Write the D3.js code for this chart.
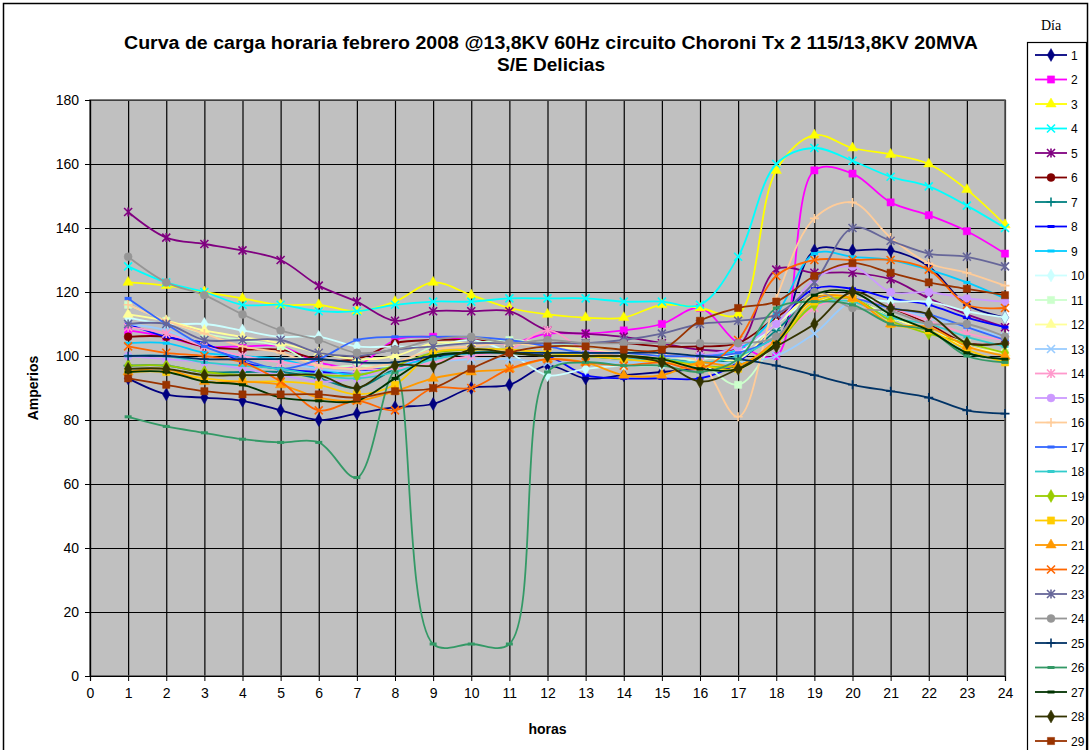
<!DOCTYPE html>
<html>
<head>
<meta charset="utf-8">
<script src="https://cdn.jsdelivr.net/npm/d3@7"></script>
<style>
  body { margin: 0; background: #fff; }
</style>
</head>
<body>
<div id="chart"></div>
<script>
// hours and axes
const hours = d3.range(1, 25);
const xTicks = d3.range(0, 25);
const yTicks = d3.range(0, 181, 20);
const dias = d3.range(1, 30);

// amperes per hour, one array per day
const dia01 = [93, 88, 87, 86, 83, 80, 82, 84, 85, 90, 91, 97, 93, 94, 95, 96, 97, 104, 133, 133, 133, 128, 116, 112];
const dia02 = [108, 106, 103, 103, 103, 98, 97, 105, 106, 105, 104, 107, 107, 108, 110, 115, 104, 100, 158, 157, 148, 144, 139, 132];
const dia03 = [123, 122, 120, 118, 116, 116, 114, 117, 123, 119, 115, 113, 112, 112, 116, 115, 113, 158, 169, 165, 163, 160, 152, 141];
const dia04 = [128, 123, 120, 116, 116, 114, 114, 116, 117, 117, 118, 118, 118, 117, 117, 116, 131, 160, 165, 161, 156, 153, 147, 140];
const dia05 = [145, 137, 135, 133, 130, 122, 117, 111, 114, 114, 114, 108, 107, 106, 104, 102, 103, 127, 126, 126, 124, 118, 113, 109];
const dia06 = [106, 106, 103, 102, 102, 99, 99, 104, 105, 105, 104, 104, 104, 104, 103, 103, 104, 112, 119, 118, 115, 110, 104, 104];
const dia07 = [97, 97, 95, 95, 95, 93, 90, 96, 100, 101, 101, 100, 100, 99, 99, 98, 99, 108, 118, 118, 112, 108, 101, 99];
const dia08 = [110, 106, 104, 98, 96, 95, 95, 97, 100, 101, 101, 100, 94, 93, 93, 93, 98, 110, 121, 121, 118, 116, 112, 109];
const dia09 = [104, 104, 101, 100, 99, 96, 94, 97, 99, 101, 101, 101, 101, 100, 100, 100, 102, 113, 132, 131, 130, 127, 123, 118];
const dia10 = [112, 110, 110, 108, 106, 106, 103, 103, 103, 105, 101, 94, 96, 97, 97, 99, 101, 110, 118, 118, 117, 117, 114, 112];
const dia11 = [116, 111, 107, 105, 103, 97, 97, 97, 103, 104, 105, 104, 103, 102, 100, 98, 91, 105, 117, 117, 113, 108, 104, 101];
const dia12 = [113, 111, 108, 106, 104, 101, 99, 100, 104, 104, 104, 103, 102, 101, 101, 100, 99, 110, 119, 118, 112, 108, 103, 101];
const dia13 = [110, 108, 103, 100, 98, 96, 95, 96, 98, 99, 99, 98, 98, 98, 98, 98, 98, 100, 107, 117, 115, 112, 109, 106];
const dia14 = [109, 107, 103, 100, 98, 97, 96, 96, 98, 100, 102, 108, 102, 101, 101, 100, 101, 105, 115, 118, 115, 111, 107, 105];
const dia15 = [100, 99, 98, 96, 94, 92, 93, 97, 100, 101, 101, 101, 101, 100, 100, 100, 103, 110, 124, 128, 120, 120, 118, 117];
const dia16 = [116, 111, 107, 103, 101, 97, 96, 98, 102, 103, 104, 103, 101, 100, 100, 98, 81, 118, 143, 148, 137, 129, 126, 122];
const dia17 = [118, 110, 103, 99, 96, 99, 105, 106, 106, 106, 105, 103, 101, 101, 100, 100, 101, 106, 118, 118, 115, 113, 109, 105];
const dia18 = [100, 100, 98, 97, 96, 94, 93, 95, 99, 101, 101, 100, 100, 99, 99, 98, 100, 106, 116, 117, 112, 110, 106, 103];
const dia19 = [97, 97, 95, 94, 94, 94, 94, 97, 101, 102, 102, 101, 100, 100, 99, 97, 97, 104, 116, 118, 111, 107, 104, 101];
const dia20 = [95, 95, 93, 92, 92, 91, 88, 91, 101, 102, 102, 101, 100, 99, 98, 97, 96, 104, 117, 118, 110, 108, 102, 98];
const dia21 = [95, 96, 92, 92, 91, 87, 86, 89, 93, 95, 96, 99, 98, 94, 94, 98, 97, 105, 118, 118, 110, 109, 103, 100];
const dia22 = [103, 101, 100, 98, 92, 83, 86, 83, 90, 90, 96, 99, 98, 97, 98, 96, 105, 125, 130, 130, 130, 127, 116, 115];
const dia23 = [110, 110, 105, 105, 105, 101, 100, 102, 103, 104, 104, 104, 104, 105, 107, 110, 111, 113, 123, 140, 136, 132, 131, 128];
const dia24 = [131, 123, 119, 113, 108, 105, 101, 102, 105, 106, 104, 105, 104, 104, 104, 104, 104, 106, 120, 115, 114, 110, 110, 106];
const dia25 = [100, 100, 99, 99, 99, 99, 98, 98, 100, 101, 101, 101, 101, 101, 101, 100, 99, 97, 94, 91, 89, 87, 83, 82];
const dia26 = [81, 78, 76, 74, 73, 73, 62, 95, 10, 10, 10, 95, 98, 97, 97, 95, 99, 115, 117, 116, 110, 108, 100, 98];
const dia27 = [95, 95, 92, 91, 87, 86, 86, 93, 100, 101, 101, 100, 100, 100, 99, 96, 96, 104, 119, 120, 113, 108, 101, 99];
const dia28 = [96, 96, 94, 94, 94, 94, 90, 97, 97, 102, 101, 100, 100, 100, 98, 92, 96, 103, 110, 120, 115, 113, 104, 104];
const dia29 = [93, 91, 89, 88, 88, 88, 87, 89, 90, 96, 101, 103, 103, 102, 102, 111, 115, 117, 125, 129, 126, 123, 121, 119];

const series = [dia01, dia02, dia03, dia04, dia05, dia06, dia07, dia08, dia09, dia10,
    dia11, dia12, dia13, dia14, dia15, dia16, dia17, dia18, dia19, dia20,
    dia21, dia22, dia23, dia24, dia25, dia26, dia27, dia28, dia29];

// Excel style palette and marker cycle
const colores = ["#000080", "#FF00FF", "#FFFF00", "#00FFFF", "#800080", "#800000", "#008080", "#0000FF", "#00CCFF", "#CCFFFF",
    "#CCFFCC", "#FFFF99", "#99CCFF", "#FF99CC", "#CC99FF", "#FFCC99", "#3366FF", "#33CCCC", "#99CC00", "#FFCC00",
    "#FF9900", "#FF6600", "#666699", "#969696", "#003366", "#339966", "#003300", "#333300", "#993300"];
const marcas = ["diamond", "square", "triangle", "x", "star", "circle", "plus", "dash", "dash"];

const W = 1089, H = 750;
const sans = "'Liberation Sans', Arial, sans-serif";
const svg = d3.select("#chart").append("svg")
    .attr("width", W)
    .attr("height", H)
    .style("font-family", sans);

// outer frame
svg.append("rect")
    .attr("x", 3.5).attr("y", 3.5)
    .attr("width", W - 5).attr("height", H + 10)
    .attr("fill", "#fff").attr("stroke", "#000").attr("stroke-width", 1.5);

const x = d3.scaleLinear().domain([0, 24]).range([90, 1005]);
const y = d3.scaleLinear().domain([0, 180]).range([676, 100]);

// plot area
svg.append("rect")
    .attr("x", x(0)).attr("y", y(180))
    .attr("width", x(24) - x(0)).attr("height", y(0) - y(180))
    .attr("fill", "#C0C0C0");

// grid
svg.append("g")
    .attr("transform", `translate(0,${y(0)})`)
    .call(d3.axisBottom(x).tickValues(xTicks).tickSize(-(y(0) - y(180))).tickFormat(""))
    .call(g => g.select(".domain").remove())
    .call(g => g.selectAll("line").attr("stroke", "#000").attr("stroke-width", 1.2));
svg.append("g")
    .attr("transform", `translate(${x(0)},0)`)
    .call(d3.axisLeft(y).tickValues(yTicks).tickSize(-(x(24) - x(0))).tickFormat(""))
    .call(g => g.select(".domain").remove())
    .call(g => g.selectAll("line").attr("stroke", "#000").attr("stroke-width", 1.2));

svg.append("rect")
    .attr("x", x(0)).attr("y", y(180))
    .attr("width", x(24) - x(0)).attr("height", y(0) - y(180))
    .attr("fill", "none").attr("stroke", "#555").attr("stroke-width", 1.5);

// axes with labels
const yAxis = svg.append("g")
    .attr("transform", `translate(${x(0)},0)`)
    .call(d3.axisLeft(y).tickValues(yTicks).tickSize(5).tickPadding(6));
const xAxis = svg.append("g")
    .attr("transform", `translate(0,${y(0)})`)
    .call(d3.axisBottom(x).tickValues(xTicks).tickSize(5).tickPadding(7));
[yAxis, xAxis].forEach(a => {
    a.select(".domain").attr("stroke", "#000").attr("stroke-width", 1.2);
    a.selectAll("line").attr("stroke", "#000");
    a.selectAll("text").attr("font-size", "14px").attr("fill", "#000")
        .attr("font-family", sans);
});

// markers
function drawMarker(g, tipo, color) {
    const sym = { diamond: d3.symbolDiamond, square: d3.symbolSquare, triangle: d3.symbolTriangle, circle: d3.symbolCircle };
    const sizes = { diamond: 48, square: 52, triangle: 46, circle: 50 };
    if (sym[tipo]) {
        g.append("path").attr("d", d3.symbol(sym[tipo], sizes[tipo])())
            .attr("fill", color).attr("stroke", color).attr("stroke-width", 0.5);
    } else if (tipo === "dash") {
        g.append("rect").attr("x", -3.5).attr("y", -1.5).attr("width", 7).attr("height", 3).attr("fill", color);
    } else {
        let d = "";
        if (tipo === "x" || tipo === "star") d += "M-4,-4L4,4M-4,4L4,-4";
        if (tipo === "star") d += "M0,-4.5V4.5";
        if (tipo === "plus") d += "M-4.5,0H4.5M0,-4.5V4.5";
        g.append("path").attr("d", d).attr("fill", "none").attr("stroke", color).attr("stroke-width", 1.6);
    }
}

const line = d3.line()
    .x((d, i) => x(hours[i]))
    .y(d => y(d))
    .curve(d3.curveCatmullRom.alpha(0.5));

const plot = svg.append("g");
series.forEach((vals, k) => {
    const color = colores[k];
    const tipo = marcas[k % marcas.length];
    const g = plot.append("g");
    g.append("path")
        .attr("d", line(vals))
        .attr("fill", "none")
        .attr("stroke", color)
        .attr("stroke-width", 1.8);
    vals.forEach((v, i) => {
        const m = g.append("g").attr("transform", `translate(${x(hours[i])},${y(v)})`);
        drawMarker(m, tipo, color);
    });
});

// title
svg.append("text")
    .attr("x", 551).attr("y", 49)
    .attr("text-anchor", "middle")
    .attr("font-size", "18px").attr("font-weight", "bold")
    .attr("textLength", 854).attr("lengthAdjust", "spacingAndGlyphs")
    .text("Curva de carga horaria febrero 2008 @13,8KV 60Hz circuito Choroni Tx 2 115/13,8KV 20MVA");
svg.append("text")
    .attr("x", 551).attr("y", 71)
    .attr("text-anchor", "middle")
    .attr("font-size", "18px").attr("font-weight", "bold")
    .attr("textLength", 108).attr("lengthAdjust", "spacingAndGlyphs")
    .text("S/E Delicias");

// axis titles
svg.append("text")
    .attr("transform", `translate(38,${(y(0) + y(180)) / 2}) rotate(-90)`)
    .attr("text-anchor", "middle")
    .attr("font-size", "14px").attr("font-weight", "bold")
    .text("Amperios");
svg.append("text")
    .attr("x", (x(0) + x(24)) / 2).attr("y", 734)
    .attr("text-anchor", "middle")
    .attr("font-size", "14px").attr("font-weight", "bold")
    .text("horas");

// legend
svg.append("text")
    .attr("x", 1041).attr("y", 30)
    .style("font-family", "'Liberation Serif', 'Times New Roman', serif")
    .attr("font-size", "14px")
    .text("Día");

const legend = svg.append("g");
legend.append("rect")
    .attr("x", 1027.5).attr("y", 42.5)
    .attr("width", 59).attr("height", 720)
    .attr("fill", "#fff").attr("stroke", "#000").attr("stroke-width", 1.2);

dias.forEach((dia, k) => {
    const ly = 55 + k * 24.5;
    const color = colores[k];
    const g = legend.append("g").attr("transform", `translate(0,${ly})`);
    g.append("line")
        .attr("x1", 1035).attr("x2", 1067)
        .attr("stroke", color).attr("stroke-width", 1.8);
    const m = g.append("g").attr("transform", "translate(1051,0)");
    drawMarker(m, marcas[k % marcas.length], color);
    g.append("text")
        .attr("x", 1071).attr("y", 4.5)
        .attr("font-size", "12px")
        .text(dia);
});
</script>
</body>
</html>
